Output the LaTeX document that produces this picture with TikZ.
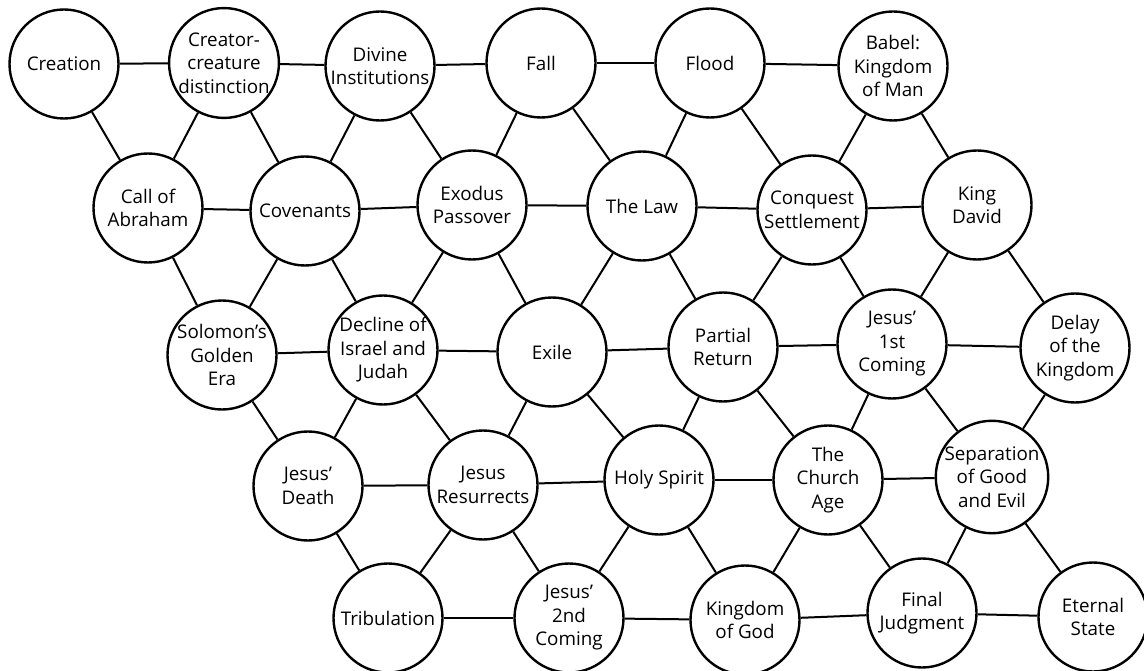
\documentclass[tikz,border=0pt]{standalone}
\usepackage{fontspec}
\setmainfont{Open Sans}
\begin{document}
\begin{tikzpicture}[x=1pt,y=-1pt,
  ev/.style={circle,draw=black,line width=2.4pt,minimum size=109pt,inner sep=0pt,align=center,fill=white,
    font=\fontsize{18.8}{23.5}\selectfont},
  lnk/.style={line width=2pt,black}]
\useasboundingbox (0,0) rectangle (1144,671);
% row 1
\node[ev] (creation) at (64,64) {Creation};
\node[ev] (creator) at (224,63) {Creator-\\creature\\distinction};
\node[ev] (divine) at (380,66) {Divine\\Institutions};
\node[ev] (fall) at (541,63) {Fall};
\node[ev] (flood) at (710,63) {Flood};
\node[ev] (babel) at (893,66) {Babel:\\Kingdom\\of Man};
% row 2
\node[ev] (call) at (148,208) {Call of\\Abraham};
\node[ev] (cov) at (305,211) {Covenants};
\node[ev] (exodus) at (472,205) {Exodus\\Passover};
\node[ev] (law) at (642,206) {The Law};
\node[ev] (conq) at (812,210) {Conquest\\Settlement};
\node[ev] (david) at (977,205) {King\\David};
% row 3
\node[ev] (solomon) at (222,355) {Solomon’s\\Golden\\Era};
\node[ev] (decline) at (383,350) {Decline of\\Israel and\\Judah};
\node[ev] (exile) at (552,352) {Exile};
\node[ev] (partial) at (723,347) {Partial\\Return};
\node[ev] (first) at (892,344) {Jesus’\\1st\\Coming};
\node[ev] (delay) at (1075,348) {Delay\\of the\\Kingdom};
% row 4
\node[ev] (death) at (308,486) {Jesus’\\Death};
\node[ev] (resur) at (483,485) {Jesus\\Resurrects};
\node[ev] (spirit) at (659,480) {Holy Spirit};
\node[ev] (church) at (828,480) {The\\Church\\Age};
\node[ev] (separ) at (992,477) {Separation\\of Good\\and Evil};
% row 5
\node[ev] (trib) at (388,618) {Tribulation};
\node[ev] (second) at (569,618) {Jesus’\\2nd\\Coming};
\node[ev] (kog) at (745,620) {Kingdom\\of God};
\node[ev] (final) at (922,613) {Final\\Judgment};
\node[ev] (eternal) at (1093,617) {Eternal\\State};
% horizontal links
\foreach \a/\b in {creation/creator,creator/divine,divine/fall,fall/flood,flood/babel,
  call/cov,cov/exodus,exodus/law,law/conq,conq/david,
  solomon/decline,decline/exile,exile/partial,partial/first,first/delay,
  death/resur,resur/spirit,spirit/church,church/separ,
  trib/second,second/kog,kog/final,final/eternal}
  \draw[lnk] (\a) -- (\b);
% diagonal links
\foreach \a/\b in {creation/call,creator/call,creator/cov,divine/cov,divine/exodus,fall/exodus,fall/law,
  flood/law,flood/conq,babel/conq,babel/david,
  call/solomon,cov/solomon,cov/decline,exodus/decline,exodus/exile,law/exile,law/partial,
  conq/partial,conq/first,david/first,david/delay,
  solomon/death,decline/death,decline/resur,exile/resur,exile/spirit,partial/spirit,partial/church,
  first/church,first/separ,delay/separ,
  death/trib,resur/trib,resur/second,spirit/second,spirit/kog,church/kog,church/final,
  separ/final,separ/eternal}
  \draw[lnk] (\a) -- (\b);
\end{tikzpicture}
\end{document}
